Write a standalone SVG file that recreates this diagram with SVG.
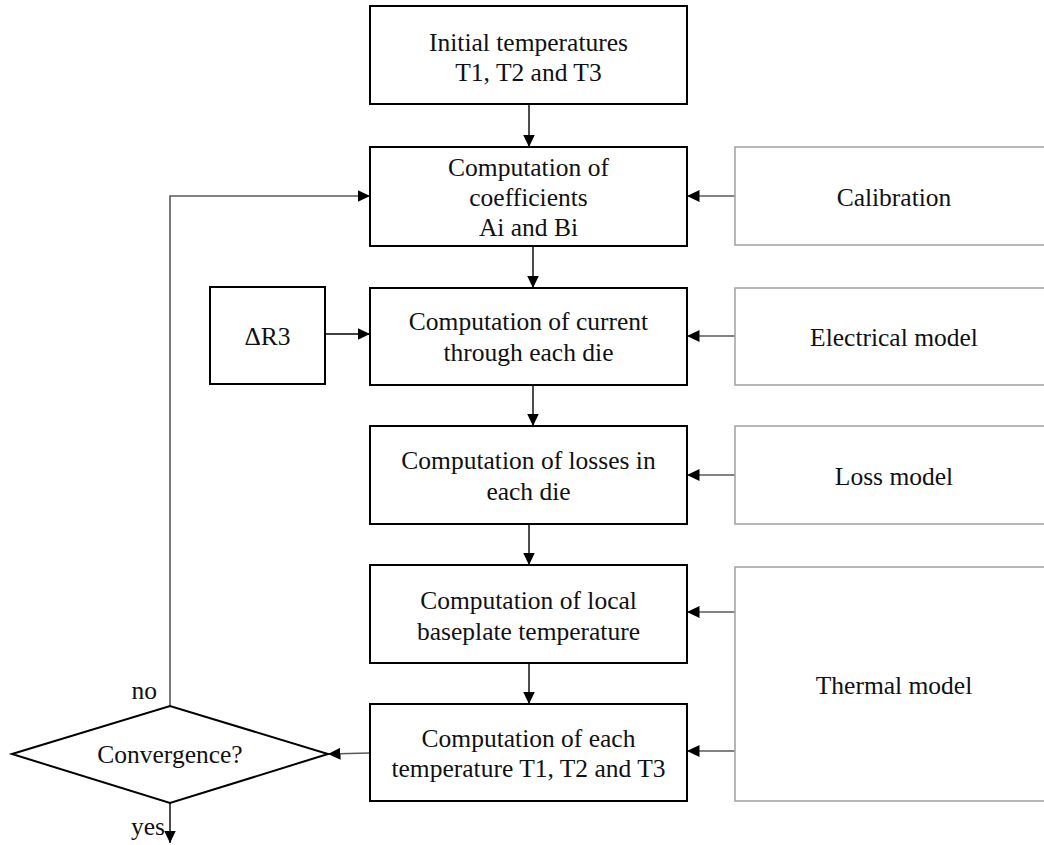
<svg xmlns="http://www.w3.org/2000/svg" width="1044" height="845" viewBox="0 0 1044 845">
<style>
text{font-family:"Liberation Serif","Times New Roman",serif;font-size:25.5px;fill:#111;text-anchor:middle}
.main{fill:#fff;stroke:#000;stroke-width:2}
.ext{fill:#fff;stroke:#a6a6a6;stroke-width:1.6}
.ln{fill:none;stroke:#000;stroke-width:1.4}
.gl{fill:none;stroke:#5a5a5a;stroke-width:1.6}
.lbl{text-anchor:end}
</style>
<defs>
<marker id="ah" markerUnits="userSpaceOnUse" markerWidth="13" markerHeight="12" refX="12.5" refY="6" orient="auto">
<path d="M0,0 L12.5,6 L0,12 z" fill="#000"/>
</marker>
</defs>
<rect width="1044" height="845" fill="#fff"/>
<g id="connectors">
<line class="ln" x1="529" y1="104" x2="529" y2="147" marker-end="url(#ah)"/>
<line class="ln" x1="533" y1="246" x2="533" y2="288" marker-end="url(#ah)"/>
<line class="ln" x1="533" y1="385" x2="533" y2="426" marker-end="url(#ah)"/>
<line class="ln" x1="529" y1="524" x2="529" y2="565" marker-end="url(#ah)"/>
<line class="ln" x1="529" y1="663" x2="529" y2="704" marker-end="url(#ah)"/>
<line class="gl" x1="735" y1="196" x2="687" y2="196" marker-end="url(#ah)"/>
<line class="gl" x1="735" y1="336" x2="687" y2="336" marker-end="url(#ah)"/>
<line class="gl" x1="735" y1="475" x2="687" y2="475" marker-end="url(#ah)"/>
<line class="gl" x1="735" y1="612" x2="687" y2="612" marker-end="url(#ah)"/>
<line class="gl" x1="735" y1="751" x2="687" y2="751" marker-end="url(#ah)"/>
<line class="ln" x1="325" y1="334" x2="370" y2="334" marker-end="url(#ah)"/>
<line class="gl" x1="370" y1="753" x2="328" y2="754" marker-end="url(#ah)"/>
<polyline class="gl" points="170,706 170,196 370,196" marker-end="url(#ah)"/>
<line class="ln" x1="170" y1="803" x2="170" y2="843" marker-end="url(#ah)"/>
<text class="lbl" x="157" y="699">no</text>
<text class="lbl" x="165" y="835">yes</text>
</g>
<g id="n1"><rect class="main" x="370" y="6" width="317" height="98"/><text x="528.5" y="51">Initial temperatures</text><text x="528.5" y="81">T1, T2 and T3</text></g>
<g id="n2"><rect class="main" x="370" y="147" width="317" height="99"/><text x="528.5" y="176">Computation of</text><text x="528.5" y="206">coefficients</text><text x="528.5" y="236">Ai and Bi</text></g>
<g id="n3"><rect class="main" x="370" y="288" width="317" height="97"/><text x="528.5" y="330">Computation of current</text><text x="528.5" y="361">through each die</text></g>
<g id="n4"><rect class="main" x="370" y="426" width="317" height="98"/><text x="528.5" y="469">Computation of losses in</text><text x="528.5" y="500">each die</text></g>
<g id="n5"><rect class="main" x="370" y="565" width="317" height="98"/><text x="528.5" y="609">Computation of local</text><text x="528.5" y="640">baseplate temperature</text></g>
<g id="n6"><rect class="main" x="370" y="704" width="317" height="97"/><text x="528.5" y="747">Computation of each</text><text x="528.5" y="777">temperature T1, T2 and T3</text></g>
<g id="dR3"><rect class="main" x="210" y="287" width="115" height="97"/><text x="267.5" y="345">ΔR3</text></g>
<g id="conv"><polygon class="main" points="12,754 170,706 328,754 170,803"/><text x="170" y="763">Convergence?</text></g>
<g id="cal"><rect class="ext" x="735" y="147" width="320" height="98"/><text x="894" y="206">Calibration</text></g>
<g id="elec"><rect class="ext" x="735" y="288" width="320" height="97"/><text x="894" y="346">Electrical model</text></g>
<g id="loss"><rect class="ext" x="735" y="426" width="320" height="98"/><text x="894" y="485">Loss model</text></g>
<g id="therm"><rect class="ext" x="735" y="567" width="320" height="234"/><text x="894" y="694">Thermal model</text></g>
</svg>
